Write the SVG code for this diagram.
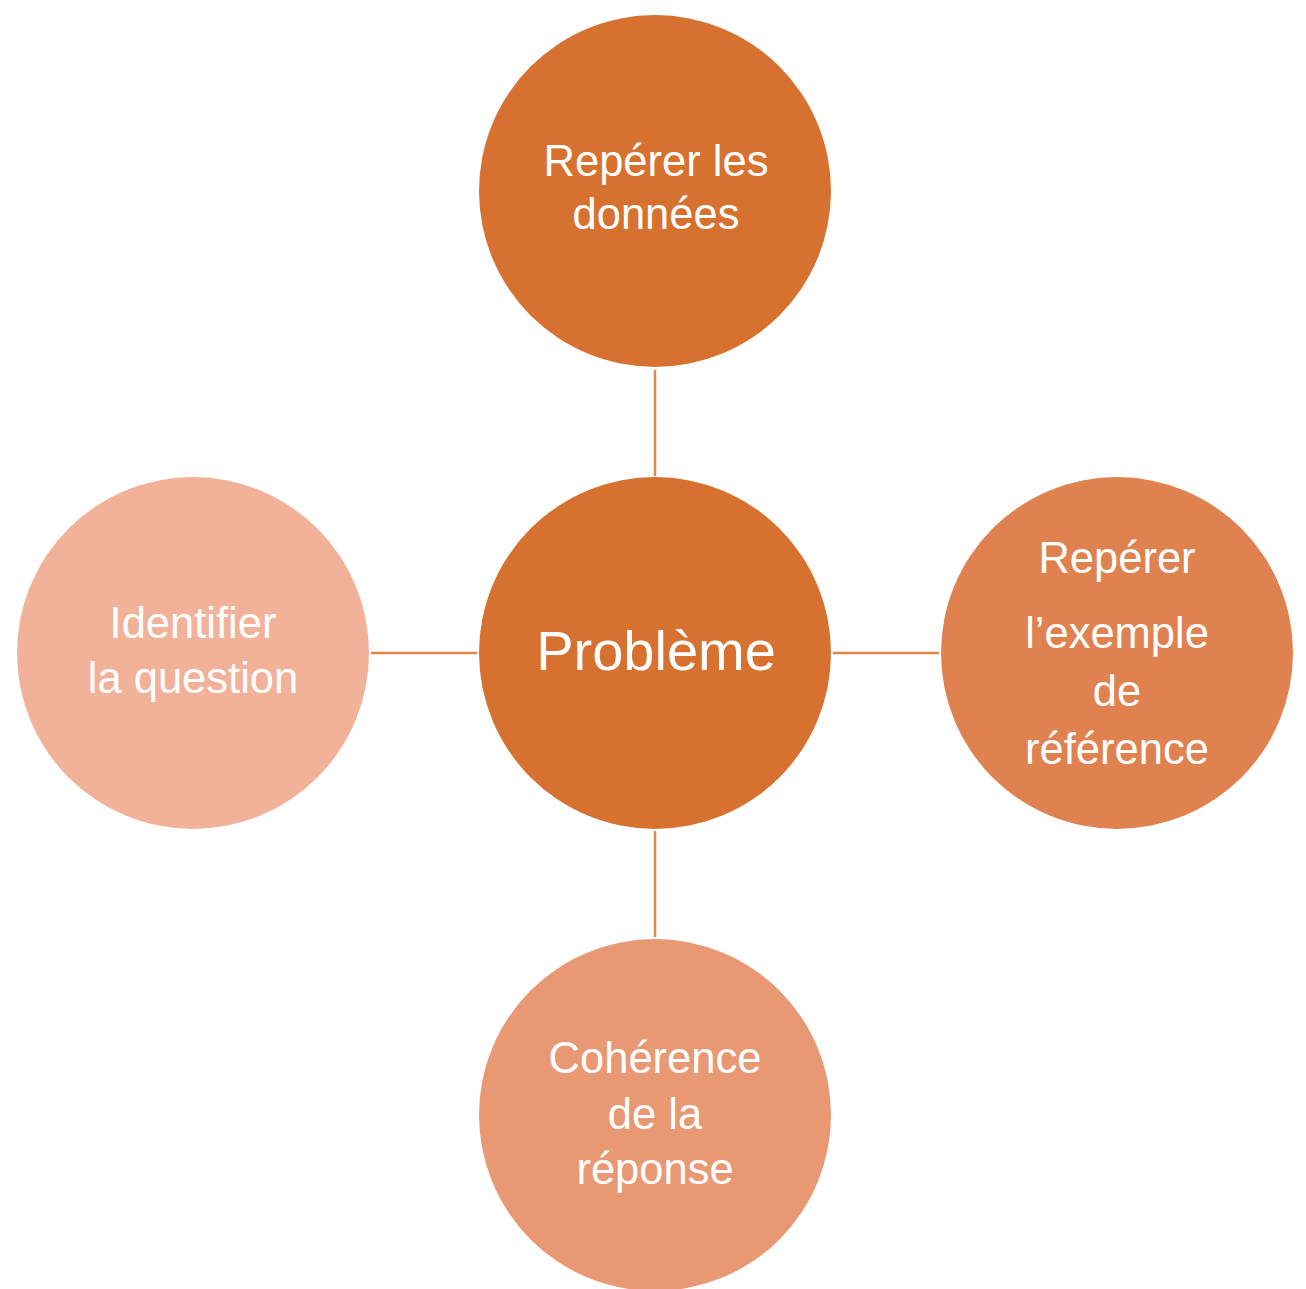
<svg xmlns="http://www.w3.org/2000/svg" width="1306" height="1289" viewBox="0 0 1306 1289">
<style>
.lbl{font-family:"Liberation Sans","DejaVu Sans",sans-serif;font-size:43.5px;fill:#ffffff;text-anchor:middle}
.big{font-size:56px}
.conn{stroke:#E8834A;stroke-width:2.5;fill:none}
</style>
<rect width="1306" height="1289" fill="#ffffff"/>
<g id="connectors">
<line class="conn" x1="655" y1="370" x2="655" y2="476"/>
<line class="conn" x1="833" y1="653" x2="939" y2="653"/>
<line class="conn" x1="371" y1="653" x2="477" y2="653"/>
<line class="conn" x1="655" y1="831" x2="655" y2="937"/>
</g>
<g id="node-top">
<circle cx="655" cy="191" r="176" fill="#D77130"/>
<text class="lbl" x="656" y="176">Repérer les</text>
<text class="lbl" x="656" y="229">données</text>
</g>
<g id="node-center">
<circle cx="655" cy="653" r="176" fill="#D77130"/>
<text class="lbl big" x="656" y="670">Problème</text>
</g>
<g id="node-right">
<circle cx="1117" cy="653" r="176" fill="#E08250"/>
<text class="lbl" x="1117" y="573">Repérer</text>
<text class="lbl" x="1117" y="648">l’exemple</text>
<text class="lbl" x="1117" y="706">de</text>
<text class="lbl" x="1117" y="764">référence</text>
</g>
<g id="node-left">
<circle cx="193" cy="653" r="176" fill="#F2B29A"/>
<text class="lbl" x="193" y="638">Identifier</text>
<text class="lbl" x="193" y="693">la question</text>
</g>
<g id="node-bottom">
<circle cx="655" cy="1115" r="176" fill="#E99874"/>
<text class="lbl" x="655" y="1073">Cohérence</text>
<text class="lbl" x="655" y="1129">de la</text>
<text class="lbl" x="655" y="1184">réponse</text>
</g>
</svg>
